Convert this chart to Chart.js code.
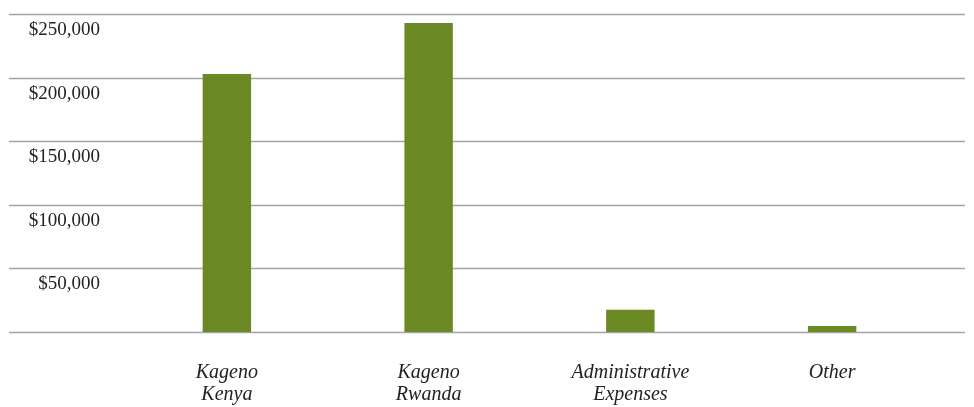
<!DOCTYPE html>
<html>
<head>
<meta charset="utf-8">
<script src="https://cdn.jsdelivr.net/npm/chart.js@4/dist/chart.umd.min.js"></script>
<style>
  html, body { margin: 0; padding: 0; background: #fff; }
  #wrap { width: 974px; height: 407px; }
</style>
</head>
<body>
<div id="wrap"><canvas id="myChart" width="974" height="407"></canvas></div>
<script>
// categories and values
var categories = [['Kageno', 'Kenya'], ['Kageno', 'Rwanda'], ['Administrative', 'Expenses'], 'Other'];
var amounts = [202800, 242900, 17400, 4700];
var yMax = 250000;
var yStep = 50000;

// gridlines run across the whole width, under the labels too
var wideGrid = {
    id: 'wideGrid',
    beforeDatasetsDraw: function (chart) {
        var ctx = chart.ctx;
        var y = chart.scales.y;
        ctx.save();
        ctx.strokeStyle = '#a3a3a3';
        ctx.lineWidth = 1.6;
        y.ticks.forEach(function (t) {
            var py = Math.round(y.getPixelForValue(t.value)) + 0.5;
            ctx.beginPath();
            ctx.moveTo(9, py);
            ctx.lineTo(965, py);
            ctx.stroke();
        });
        ctx.restore();
    }
};

var ctx = document.getElementById('myChart').getContext('2d');
var myChart = new Chart(ctx, {
    type: 'bar',
    data: {
        labels: categories,
        datasets: [{
            data: amounts,
            backgroundColor: '#6a8823',
            barPercentage: 0.24,
            categoryPercentage: 1.0
        }]
    },
    options: {
        responsive: false,
        animation: false,
        layout: { padding: { top: 14, right: 41, left: 0, bottom: 0 } },
        plugins: {
            legend: { display: false },
            tooltip: { enabled: false }
        },
        scales: {
            x: {
                afterFit: function (scale) {
                    scale.height = 75;
                    scale.paddingLeft = 0;
                    scale.paddingRight = 0;
                },
                grid: { display: false, drawTicks: false },
                border: { display: false },
                ticks: {
                    color: '#222',
                    padding: 30,
                    maxRotation: 0,
                    font: { family: '"Liberation Serif", serif', style: 'italic', size: 20, lineHeight: 1.1 }
                }
            },
            y: {
                min: 0,
                max: yMax,
                afterFit: function (scale) {
                    scale.width = 126;
                    scale.paddingTop = 0;
                    scale.paddingBottom = 0;
                },
                grid: { display: false, drawTicks: false },
                border: { display: false },
                ticks: {
                    stepSize: yStep,
                    padding: 26,
                    labelOffset: 16,
                    color: '#222',
                    font: { family: '"Liberation Serif", serif', size: 19 },
                    callback: function (v) {
                        if (v === 0) return '';
                        return '$' + v.toLocaleString('en-US');
                    }
                }
            }
        }
    },
    plugins: [wideGrid]
});
</script>
</body>
</html>
